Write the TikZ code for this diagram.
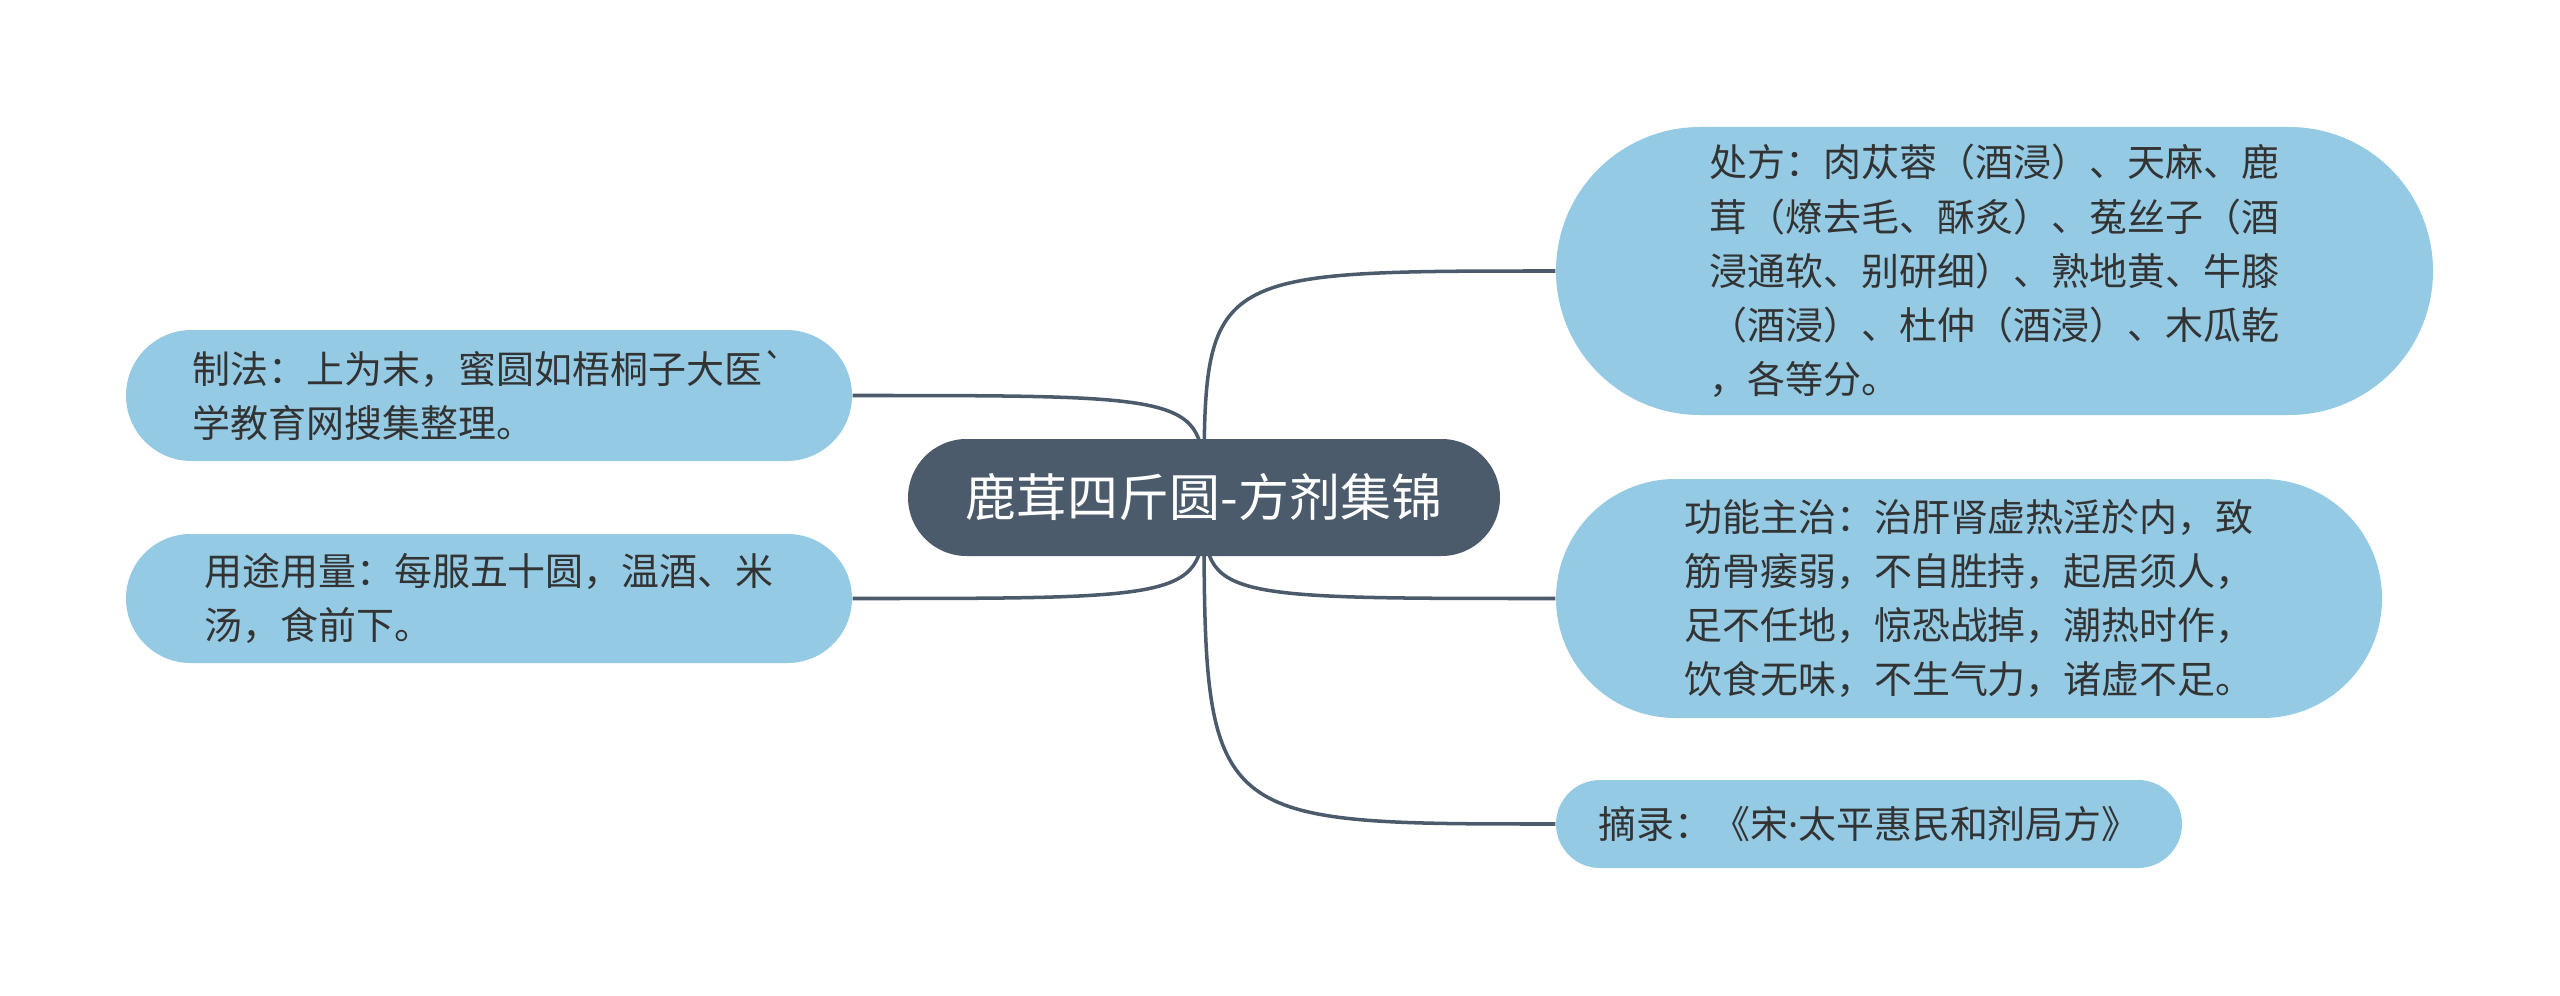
\documentclass[tikz,border=0pt]{standalone}
\usepackage{fontspec}
\newfontfamily\cjk{Noto Sans CJK SC}
\newfontfamily\latin{Noto Sans}
\usetikzlibrary{backgrounds}
\definecolor{rootfill}{HTML}{4B5B6B}
\definecolor{leaffill}{HTML}{94CAE3}
\definecolor{leaftext}{HTML}{333333}
\definecolor{linkcolor}{HTML}{4B5B6B}

\begin{document}
\begin{tikzpicture}[
    link/.style={draw=linkcolor, line width=1pt},
    root node/.style={fill=rootfill, text=white, inner sep=0pt, minimum width=5.92cm, minimum height=1.17cm, rounded corners=0.585cm, font=\cjk\fontsize{14.5}{18}\selectfont},
    leaf node/.style={fill=leaffill, text=leaftext, inner sep=0pt, align=left, font=\cjk\fontsize{10.8}{15.4}\selectfont}
]
    \useasboundingbox (0,0) rectangle (25.6,-9.96);

    % Nodes
    \node[root node] (root) at (12.04,-4.975) {鹿茸四斤圆-方剂集锦};
    \node[leaf node, minimum width=8.77cm, minimum height=2.88cm, rounded corners=1.44cm] (chufang) at (19.945,-2.71)
        {处方：肉苁蓉（酒浸）、天麻、鹿\\茸（燎去毛、酥炙）、菟丝子（酒\\浸通软、别研细）、熟地黄、牛膝\\（酒浸）、杜仲（酒浸）、木瓜乾\\，各等分。};
    \node[leaf node, minimum width=8.26cm, minimum height=2.39cm, rounded corners=1.195cm] (gongneng) at (19.69,-5.985)
        {功能主治：治肝肾虚热淫於内，致\\筋骨痿弱，不自胜持，起居须人，\\足不任地，惊恐战掉，潮热时作，\\饮食无味，不生气力，诸虚不足。};
    \node[leaf node, minimum width=6.26cm, minimum height=0.88cm, rounded corners=0.44cm] (zhailu) at (18.69,-8.24)
        {摘录：《宋{\latin ·}太平惠民和剂局方》};
    \node[leaf node, minimum width=7.26cm, minimum height=1.31cm, rounded corners=0.655cm] (zhifa) at (4.89,-3.955)
        {制法：上为末，蜜圆如梧桐子大医\textasciigrave\\学教育网搜集整理。};
    \node[leaf node, minimum width=7.26cm, minimum height=1.29cm, rounded corners=0.645cm] (yongtu) at (4.89,-5.985)
        {用途用量：每服五十圆，温酒、米\\汤，食前下。};

    % Edges
    \begin{scope}[on background layer]
        \draw[link] (root.center) .. controls (root.center |- chufang.west) .. (chufang.west);
        \draw[link] (root.center) .. controls (root.center |- gongneng.west) .. (gongneng.west);
        \draw[link] (root.center) .. controls (root.center |- zhailu.west) .. (zhailu.west);
        \draw[link] (zhifa.east) .. controls (root.center |- zhifa.east) .. (root.center);
        \draw[link] (yongtu.east) .. controls (root.center |- yongtu.east) .. (root.center);
    \end{scope}
\end{tikzpicture}
\end{document}
